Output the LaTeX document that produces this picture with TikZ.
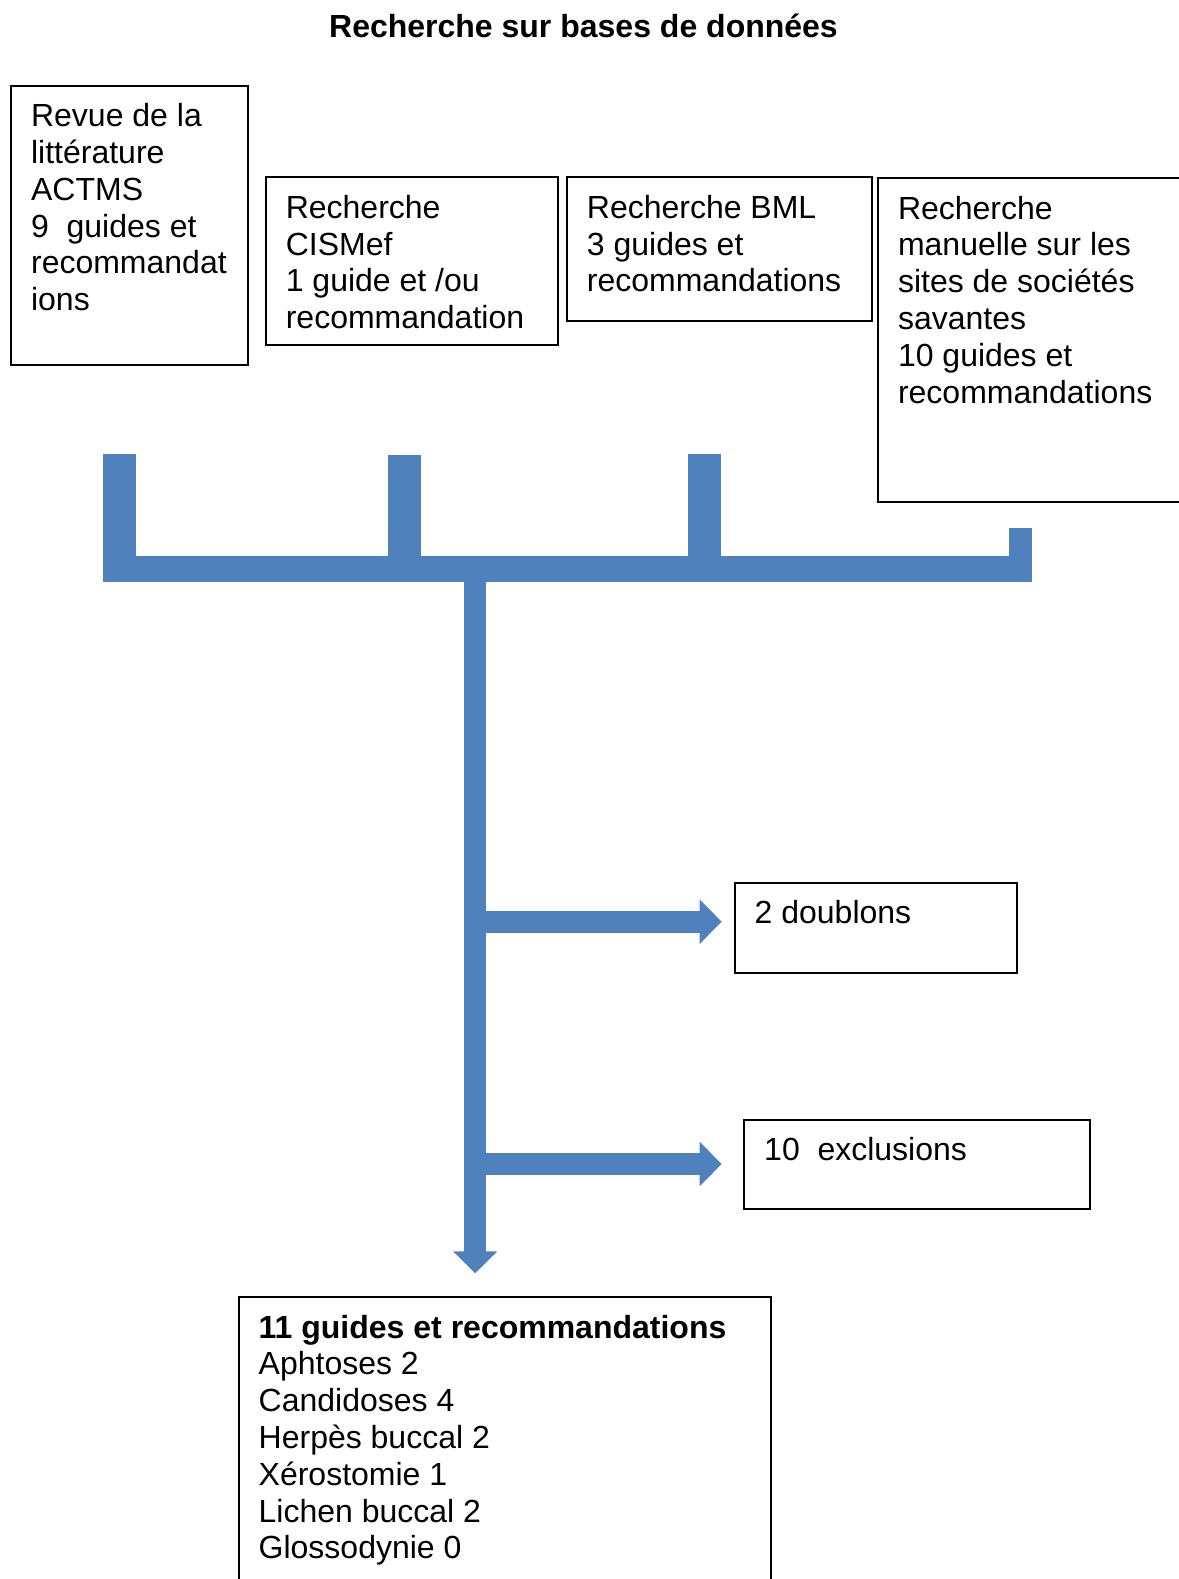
\documentclass[tikz,border=0pt]{standalone}
\usepackage{fontspec}
\setmainfont{Liberation Sans}
\usetikzlibrary{arrows.meta}
\definecolor{bleu}{HTML}{4F81BD}
% texte en haut du cadre, premiere ligne de base a 41 du bord
\newcommand{\cadre}[3]{\parbox[t][#2pt][t]{#1pt}{\raggedright\rule{0pt}{41pt}#3}}

\begin{document}
\begin{tikzpicture}[x=1pt, y=-1pt, line cap=butt,
    boite/.style={draw, line width=2pt, anchor=north west, inner xsep=20pt, inner ysep=0pt, font=\fontsize{32}{36.8}\selectfont},
    barre/.style={draw=bleu},
    fleche/.style={draw=bleu, line width=22pt, -{Triangle[length=22pt, width=43pt]}}]
    \useasboundingbox (0,0) rectangle (1178,1579);

    \node[anchor=base, font=\bfseries\fontsize{32}{36.8}\selectfont] (titre) at (583.5,37.3) {Recherche sur bases de données};

    \node[boite] (revue) at (10.1,84.6) {\cadre{196.6}{279}{Revue de la\\littérature\\ACTMS\\9~ guides et\\recommandat\\ions}};
    \node[boite] (cismef) at (264.8,176.2) {\cadre{252}{168.2}{Recherche\\CISMef\\1 guide et /ou\\recommandation}};
    \node[boite] (bml) at (565.9,176.2) {\cadre{265}{144}{Recherche BML\\3 guides et\\recommandations}};
    \node[boite] (manuelle) at (877,177) {\cadre{282}{324.2}{Recherche\\manuelle sur les\\sites de sociétés\\savantes\\10 guides et\\recommandations}};
    \node[boite] (doublons) at (733.7,881.7) {\cadre{242.3}{90.1}{2 doublons}};
    \node[boite] (exclusions) at (743.2,1118.8) {\cadre{305.4}{89.6}{10~ exclusions}};
    \node[boite] (resultat) at (237.7,1296) {\cadre{492.7}{320}{\textbf{11 guides et recommandations}\\Aphtoses 2\\Candidoses 4\\Herpès buccal 2\\Xérostomie 1\\Lichen buccal 2\\Glossodynie 0}};

    % barres de regroupement
    \coordinate (b1) at (119.4,454);
    \coordinate (b2) at (404.8,455);
    \coordinate (b3) at (704.8,454);
    \coordinate (b4) at (1020.4,528.3);
    \coordinate (gauche) at (102.9,569);
    \coordinate (droite) at (1031.8,569);
    \coordinate (centre) at (475.2,569);
    \coordinate (vers doublons) at (721.7,921.7);
    \coordinate (vers exclusions) at (721.7,1164);
    \coordinate (vers resultat) at (475.2,1273.3);

    \draw[barre, line width=26.6pt] (gauche) -- (droite);
    \draw[barre, line width=33pt] (b1) -- ++(0,128.3);
    \draw[barre, line width=33pt] (b2) -- ++(0,127.3);
    \draw[barre, line width=33pt] (b3) -- ++(0,128.3);
    \draw[barre, line width=22.8pt] (b4) -- ++(0,54);

    \draw[fleche] (centre) -- (vers resultat);
    \draw[fleche] (centre |- vers doublons) -- (vers doublons);
    \draw[fleche] (centre |- vers exclusions) -- (vers exclusions);
\end{tikzpicture}
\end{document}
